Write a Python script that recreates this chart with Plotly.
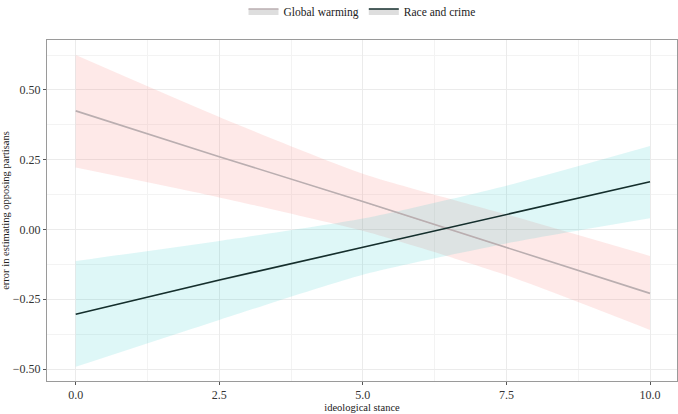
import plotly.graph_objects as go

# ---- data ----
stance = [0.0, 2.5, 5.0, 7.5, 10.0]

gw_fit = [0.425, 0.261, 0.100, -0.065, -0.229]
gw_lo = [0.222, 0.115, -0.005, -0.164, -0.360]
gw_hi = [0.625, 0.403, 0.200, 0.054, -0.095]

rc_fit = [-0.304, -0.181, -0.064, 0.054, 0.171]
rc_lo = [-0.492, -0.324, -0.162, -0.050, 0.040]
rc_hi = [-0.113, -0.041, 0.039, 0.157, 0.299]

series_names = ["Global warming", "Race and crime"]
y_ticks = [-0.5, -0.25, 0.0, 0.25, 0.5]
y_tick_text = ["\u22120.50", "\u22120.25", "0.00", "0.25", "0.50"]
x_ticks = [0.0, 2.5, 5.0, 7.5, 10.0]
x_tick_text = ["0.0", "2.5", "5.0", "7.5", "10.0"]

FONT = "Liberation Serif"
pink_fill = "rgba(248,118,109,0.16)"
teal_fill = "rgba(0,191,196,0.13)"
gw_line = "#baaeb0"
rc_line = "#142e2c"

fig = go.Figure()

# ribbons
for lo, hi, fc in [(gw_lo, gw_hi, pink_fill), (rc_lo, rc_hi, teal_fill)]:
    fig.add_trace(go.Scatter(x=stance, y=lo, mode="lines", line=dict(width=0, shape="spline", smoothing=0.6),
                             showlegend=False, hoverinfo="skip"))
    fig.add_trace(go.Scatter(x=stance, y=hi, mode="lines", line=dict(width=0, shape="spline", smoothing=0.6),
                             fill="tonexty", fillcolor=fc, showlegend=False, hoverinfo="skip"))

# fitted lines
for name, fit, lc in [(series_names[0], gw_fit, gw_line), (series_names[1], rc_fit, rc_line)]:
    fig.add_trace(go.Scatter(x=stance, y=fit, mode="lines", name=name,
                             line=dict(color=lc, width=1.6), fill="toself",
                             fillcolor="rgba(160,160,160,0.35)"))

grid = "#ebebeb"
fig.update_layout(
    width=678, height=414,
    margin=dict(l=47, r=1, t=40, b=33, autoexpand=False),
    paper_bgcolor="white", plot_bgcolor="white",
    font=dict(family=FONT, size=11, color="#333333"),
    showlegend=True,
    legend=dict(orientation="h", x=0.5, xanchor="center", y=1.085, yanchor="middle",
                traceorder="normal",
                font=dict(family=FONT, size=11.5, color="#222222"), bgcolor="rgba(0,0,0,0)"),
    xaxis=dict(range=[-0.5, 10.47], tickmode="array", tickvals=x_ticks, ticktext=x_tick_text,
               showgrid=True, gridcolor=grid, gridwidth=1,
               minor=dict(dtick=1.25, tick0=0, showgrid=True, gridcolor="#f3f3f3", gridwidth=0.8),
               zeroline=False, showline=True, linecolor="#9a9a9a", linewidth=1, mirror=True,
               ticks="outside", ticklen=3, tickcolor="#555555",
               tickfont=dict(family=FONT, size=12, color="#333333"),
               title=dict(text="ideological stance", font=dict(family=FONT, size=10.5, color="#222222"), standoff=1)),
    yaxis=dict(range=[-0.543, 0.679], tickmode="array", tickvals=y_ticks, ticktext=y_tick_text,
               showgrid=True, gridcolor=grid, gridwidth=1,
               minor=dict(dtick=0.125, tick0=0, showgrid=True, gridcolor="#f3f3f3", gridwidth=0.8),
               zeroline=False, showline=True, linecolor="#9a9a9a", linewidth=1, mirror=True,
               ticks="outside", ticklen=3, tickcolor="#555555",
               tickfont=dict(family=FONT, size=12, color="#333333"),
               title=dict(text="error in estimating opposing partisans", font=dict(family=FONT, size=10.5, color="#222222"), standoff=3)),
)

fig.write_html("out.html", config={"displayModeBar": False},
               post_script="document.body.style.margin='0';")
